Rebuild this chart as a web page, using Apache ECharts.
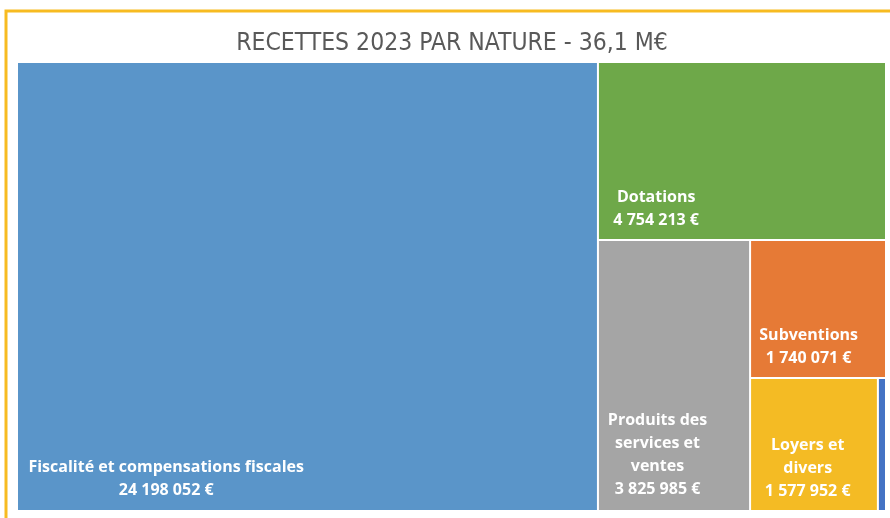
<!DOCTYPE html>
<html lang="fr">
<head>
    <meta charset="UTF-8">
    <title>Recettes 2023 par nature</title>
    <style>
        html, body {
            margin: 0;
            padding: 0;
            background: #fff;
        }
        #chart {
            width: 890px;
            height: 518px;
        }
    </style>
</head>
<body>
    <div id="chart"></div>
    <script src="https://cdn.jsdelivr.net/npm/echarts@6/dist/echarts.min.js"></script>
    <script>
        // données
        const categories = [
            'Fiscalité et compensations fiscales',
            'Dotations',
            'Produits des services et ventes',
            'Subventions',
            'Loyers et divers',
            'Autres'
        ];
        const values = [24198052, 4754213, 3825985, 1740071, 1577952, 100000];
        const colors = ['#5a95c9', '#6ea849', '#a5a5a5', '#e67a36', '#f4bb24', '#4472c4'];

        // coupures de ligne des étiquettes
        const labelText = {
            'Produits des services et ventes': 'Produits des\nservices et\nventes',
            'Loyers et divers': 'Loyers et\ndivers'
        };
        // position des étiquettes dans chaque case (en %)
        const labelPos = [
            ['25.6%', '93%'],
            ['20%', '83%'],
            ['39%', '79.5%'],
            ['43%', '78%'],
            ['45%', '68%'],
            null
        ];

        function fmtEuro(v) {
            return String(v).replace(/\B(?=(\d{3})+(?!\d))/g, ' ') + ' €';
        }

        const chart = echarts.init(document.getElementById('chart'));

        const seriesData = categories.map((name, i) => ({
            name: name,
            value: values[i],
            itemStyle: { color: colors[i] },
            label: labelPos[i] ? { show: true, position: labelPos[i] } : { show: false }
        }));

        const option = {
            backgroundColor: '#fff',
            animation: false,
            title: {
                text: 'RECETTES 2023 PAR NATURE - 36,1 M€',
                left: 447,
                textAlign: 'center',
                top: 26,
                textStyle: {
                    color: '#595959',
                    fontSize: 24.5,
                    fontWeight: 'normal',
                    fontFamily: "'Liberation Sans Narrow', 'DejaVu Sans Condensed', sans-serif"
                }
            },
            graphic: [{
                type: 'rect',
                shape: { x: 6, y: 11, width: 900, height: 520 },
                style: { fill: 'none', stroke: '#f7bb21', lineWidth: 3 },
                silent: true
            }],
            series: [{
                type: 'treemap',
                left: 18,
                top: 63,
                right: 5,
                bottom: 8,
                roam: false,
                nodeClick: false,
                squareRatio: 1,
                breadcrumb: { show: false },
                sort: 'desc',
                itemStyle: {
                    borderWidth: 0,
                    gapWidth: 2,
                    borderColor: '#fff'
                },
                label: {
                    color: '#fff',
                    fontSize: 16,
                    fontWeight: 'bold',
                    fontFamily: "'Open Sans', sans-serif",
                    lineHeight: 23,
                    align: 'center',
                    verticalAlign: 'middle',
                    formatter: p => (labelText[p.name] || p.name) + '\n' + fmtEuro(p.value)
                },
                upperLabel: { show: false },
                emphasis: { disabled: true },
                data: seriesData
            }]
        };

        chart.setOption(option);
    </script>
</body>
</html>
